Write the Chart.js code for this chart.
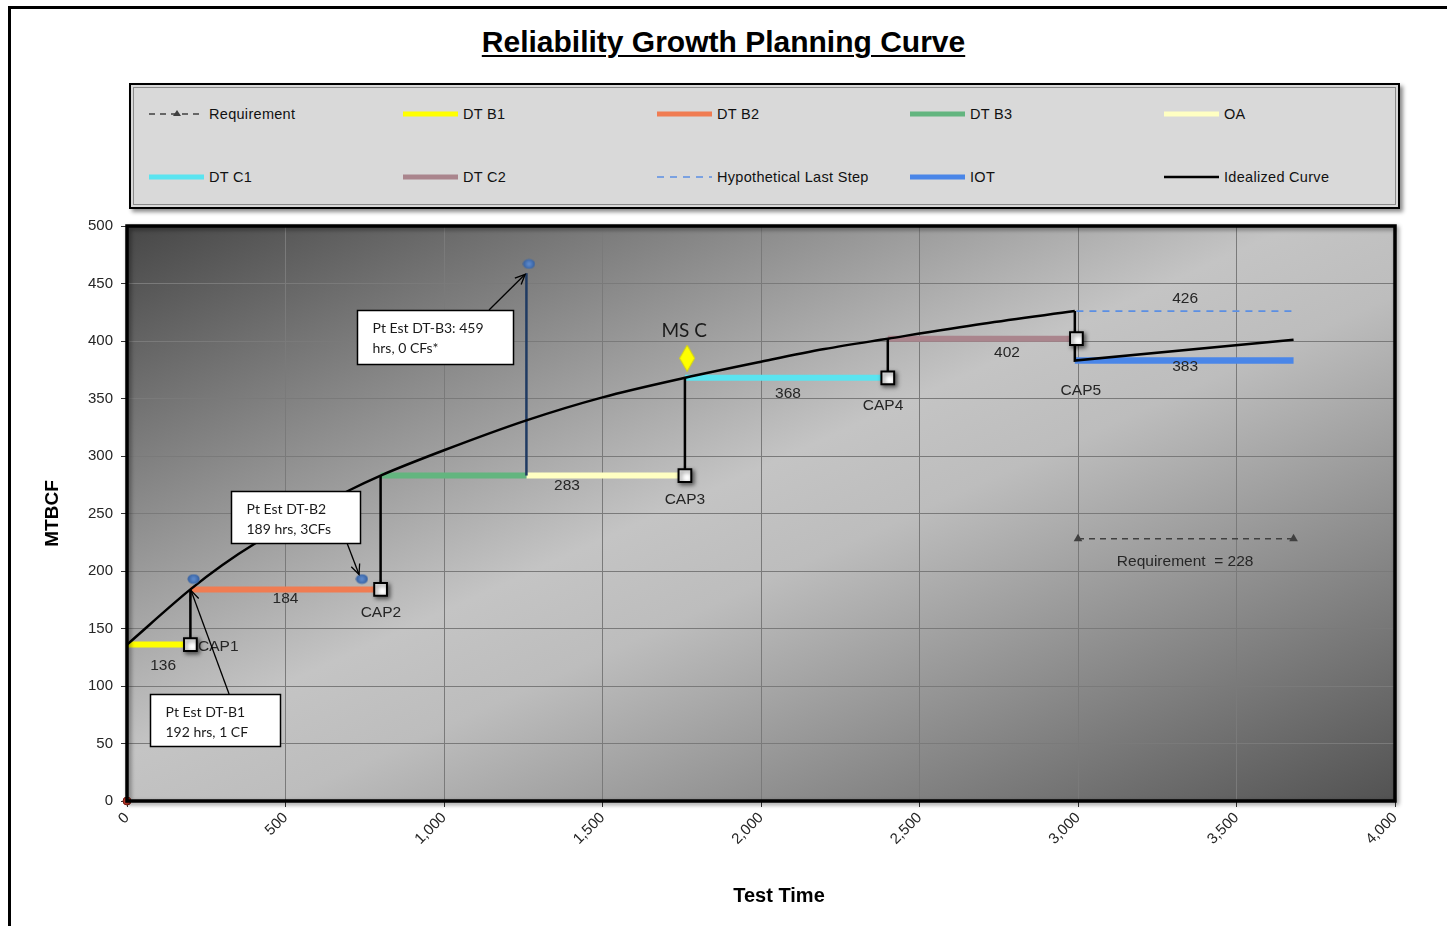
<!DOCTYPE html>
<html><head><meta charset="utf-8">
<script src="https://cdn.jsdelivr.net/npm/chart.js@4.4.0/dist/chart.umd.min.js"></script>
<style>
html,body{margin:0;padding:0;background:#fff;width:1447px;height:926px;overflow:hidden;font-family:"Liberation Sans",Arial,sans-serif;}
#frame{position:absolute;left:8px;top:6px;width:1460px;height:940px;border:3px solid #000;box-sizing:border-box;}
#title{position:absolute;left:0;width:1447px;top:24px;text-align:center;font-weight:bold;font-size:30px;line-height:36px;text-decoration:underline;text-decoration-thickness:2px;text-underline-offset:3px;color:#000;}
#legend{position:absolute;left:129px;top:83px;width:1271px;height:126px;box-sizing:border-box;background:#d9d9d9;border:2px solid #000;box-shadow:inset 0 0 0 2px #d9d9d9, inset 0 0 0 3px #8a8a8a, 3px 3px 4px rgba(0,0,0,0.45);}
.sw{position:absolute;width:56px;height:16px;}
.lt{position:absolute;font-size:14.5px;letter-spacing:0.3px;color:#111;height:20px;line-height:20px;white-space:nowrap;}
canvas#c{position:absolute;left:0;top:0;}
</style></head><body>
<div id="frame"></div>
<div id="title">Reliability Growth Planning Curve</div>
<div id="legend"></div>
<canvas id="c" width="1447" height="926" style="width:1447px;height:926px"></canvas>
<script>
// ---------------- data ----------------
const xTicks = [0, 500, 1000, 1500, 2000, 2500, 3000, 3500, 4000];
const yTicks = [0, 50, 100, 150, 200, 250, 300, 350, 400, 450, 500];
const seriesNames = ["Requirement", "DT B1", "DT B2", "DT B3", "OA", "DT C1", "DT C2", "Hypothetical Last Step", "IOT", "Idealized Curve"];

const requirementX = [3000, 3680];
const requirementY = [228, 228];
const dtB1X = [0, 200];
const dtB1Y = [136, 136];
const dtB2X = [200, 800];
const dtB2Y = [184, 184];
const dtB3X = [800, 1260];
const dtB3Y = [283, 283];
const oaX = [1260, 1760];
const oaY = [283, 283];
const dtC1X = [1760, 2400];
const dtC1Y = [368, 368];
const dtC2X = [2400, 2995];
const dtC2Y = [402, 402];
const hypoX = [2995, 3680];
const hypoY = [426, 426];
const iotX = [2990, 3680];
const iotY = [383, 383];
const curveX = [0, 200, 300, 410, 500, 600, 700, 800, 1000, 1260, 1500, 1760, 2000, 2200, 2400, 2700, 2990];
const curveY = [136, 184, 205, 225, 239, 255, 270, 283, 305, 331, 351, 368, 382, 393, 402, 415, 426];
const curveIotX = [2990, 2990, 3680];
const curveIotY = [426, 383, 401];

const capNames = ["CAP1", "CAP2", "CAP3", "CAP4", "CAP5"];
const capX = [200, 800, 1760, 2400, 2995];
const capY = [136, 184, 283, 368, 402];
const capTopY = [184, 283, 368, 402];

const ptEstX = [210, 741, 1268];
const ptEstY = [193, 193, 467];
const dtB3EstX = [1260, 1260];
const dtB3EstY = [283, 459];
const msCX = [1767];
const msCY = [385];
const originX = [0];
const originY = [0];
const requirementValue = 228;

// ---------------- styles ----------------
const seriesStyles = [
  {color: '#404040', width: 1.6, dash: [6, 5], marker: 'triangle'},
  {color: '#ffff00', width: 6},
  {color: '#f07c52', width: 6},
  {color: '#63b57f', width: 6},
  {color: '#ffffc2', width: 6},
  {color: '#5ae4f0', width: 6},
  {color: '#aa858d', width: 6},
  {color: '#5b8fe3', width: 1.6, dash: [7, 6]},
  {color: '#4a86e8', width: 6.5},
  {color: '#000000', width: 2.5}
];

// ---------------- legend (HTML) ----------------
(function buildLegend() {
  const lg = document.getElementById('legend');
  const colX = [149, 403, 657, 910, 1164];
  const rowY = [114, 177];
  seriesNames.forEach((name, i) => {
    const st = seriesStyles[i];
    const cx = colX[i % 5] - 131, cy = rowY[Math.floor(i / 5)] - 85;
    const cv = document.createElement('canvas');
    cv.width = 56; cv.height = 16; cv.className = 'sw';
    cv.style.left = cx + 'px'; cv.style.top = (cy - 8) + 'px';
    const g = cv.getContext('2d');
    g.strokeStyle = st.color; g.lineWidth = Math.min(st.width, 5);
    if (st.dash) g.setLineDash(st.dash);
    g.beginPath(); g.moveTo(0, 8); g.lineTo(55, 8); g.stroke();
    if (st.marker === 'triangle') {
      g.setLineDash([]); g.fillStyle = st.color;
      g.beginPath(); g.moveTo(28, 4); g.lineTo(32, 10); g.lineTo(24, 10); g.closePath(); g.fill();
    }
    lg.appendChild(cv);
    const t = document.createElement('div');
    t.className = 'lt'; t.textContent = name;
    t.style.left = (cx + 60) + 'px'; t.style.top = (cy - 10) + 'px';
    lg.appendChild(t);
  });
})();

// ---------------- helpers ----------------
function pts(xs, ys) { return xs.map((x, i) => ({x: x, y: ys[i]})); }
function connectorPts() {
  const out = [];
  for (let i = 0; i < capTopY.length; i++) {
    out.push({x: capX[i], y: capY[i]}, {x: capX[i], y: capTopY[i]}, {x: capX[i], y: null});
  }
  return out;
}
const diamond = document.createElement('canvas');
diamond.width = 16; diamond.height = 27;
(function () {
  const g = diamond.getContext('2d');
  g.fillStyle = '#ffff00'; g.strokeStyle = '#d8d800'; g.lineWidth = 1;
  g.beginPath(); g.moveTo(8, 0.5); g.lineTo(15.5, 13.5); g.lineTo(8, 26.5); g.lineTo(0.5, 13.5); g.closePath(); g.fill(); g.stroke();
})();
const blueDot = document.createElement('canvas');
blueDot.width = 13; blueDot.height = 11;
(function () {
  const g = blueDot.getContext('2d');
  const gr = g.createRadialGradient(6.5, 5.5, 1, 6.5, 5.5, 6.5);
  gr.addColorStop(0, '#5a86c8'); gr.addColorStop(1, '#2f5a9a');
  g.fillStyle = gr;
  g.beginPath(); g.ellipse(6.5, 5.5, 6, 4.8, 0, 0, Math.PI * 2); g.fill();
})();

function stepDs(i, xs, ys, order) {
  const st = seriesStyles[i];
  return {label: seriesNames[i], data: pts(xs, ys), borderColor: st.color, borderWidth: st.width,
    borderDash: st.dash || [], pointRadius: 0, order: order, borderCapStyle: 'butt'};
}

const datasets = [
  {label: 'CAP markers', data: pts(capX, capY), showLine: false, pointStyle: 'rect', pointRadius: 9,
    pointBackgroundColor: '#ffffff', pointBorderColor: '#000000', pointBorderWidth: 2, order: 0, clip: false},
  {label: 'Point estimates', data: pts(ptEstX, ptEstY), showLine: false, pointStyle: blueDot, order: 1, clip: false},
  {label: 'MS C', data: pts(msCX, msCY), showLine: false, pointStyle: diamond, order: 1, clip: false},
  {label: 'origin', data: pts(originX, originY), showLine: false, pointStyle: 'circle', pointRadius: 4,
    pointBackgroundColor: '#c0392b', pointBorderColor: '#7a1c12', pointBorderWidth: 1, order: 1, clip: false},
  {label: 'Idealized Curve', data: pts(curveX, curveY), borderColor: '#000', borderWidth: 2.5,
    cubicInterpolationMode: 'monotone', pointRadius: 0, order: 2},
  {label: 'Idealized Curve (IOT)', data: pts(curveIotX, curveIotY), borderColor: '#000', borderWidth: 2.5,
    pointRadius: 0, order: 2},
  {label: 'CAP connectors', data: connectorPts(), borderColor: '#000', borderWidth: 2.5, pointRadius: 0, spanGaps: false, order: 3},
  {label: 'DT-B3 estimate', data: pts(dtB3EstX, dtB3EstY), borderColor: '#1f3a62', borderWidth: 2.5, pointRadius: 0, order: 3},
  {label: seriesNames[0], data: pts(requirementX, requirementY), borderColor: seriesStyles[0].color,
    borderWidth: seriesStyles[0].width, borderDash: seriesStyles[0].dash, pointStyle: 'triangle', pointRadius: 5,
    pointBackgroundColor: '#404040', pointBorderWidth: 0, order: 2},
  stepDs(1, dtB1X, dtB1Y, 4),
  stepDs(2, dtB2X, dtB2Y, 4),
  stepDs(3, dtB3X, dtB3Y, 4),
  stepDs(4, oaX, oaY, 4),
  stepDs(5, dtC1X, dtC1Y, 4),
  stepDs(6, dtC2X, dtC2Y, 4),
  stepDs(7, hypoX, hypoY, 4),
  stepDs(8, iotX, iotY, 4)
];

// ---------------- annotations (positions in data units) ----------------
const valueLabels = [
  {text: String(dtB1Y[0]), x: 114, y: 118},
  {text: String(dtB2Y[0]), x: 500, y: 176},
  {text: String(oaY[0]), x: 1388, y: 274},
  {text: String(dtC1Y[0]), x: 2085, y: 354},
  {text: String(dtC2Y[0]), x: 2776, y: 390},
  {text: String(hypoY[0]), x: 3338, y: 437},
  {text: String(iotY[0]), x: 3338, y: 378},
  {text: 'Requirement  = ' + requirementValue, x: 3338, y: 208}
];
const capLabelPos = [
  {x: 224, y: 134, align: 'left'},
  {x: 801, y: 163.5, align: 'center'},
  {x: 1760, y: 262, align: 'center'},
  {x: 2385, y: 343.5, align: 'center'},
  {x: 3009, y: 356.5, align: 'center'}
];
const callouts = [
  {lines: ['Pt Est DT-B1', '192 hrs, 1 CF'], box: [72, 93, 483, 48], from: [322, 93], to: [202, 183]},
  {lines: ['Pt Est DT-B2', '189 hrs, 3CFs'], box: [328, 269.6, 735, 224.3], from: [694, 224.3], to: [732, 197]},
  {lines: ['Pt Est DT-B3: 459', 'hrs, 0 CFs*'], box: [725, 427, 1218, 380], from: [1142, 427], to: [1256, 458]}
];

const bgPlugin = {
  id: 'bg',
  beforeDraw(chart) {
    const {ctx, chartArea: a} = chart;
    const W = a.right - a.left, H = a.bottom - a.top;
    const f = 2 * W * H / (W * W + H * H);
    const g = ctx.createLinearGradient(a.left, a.top, a.left + f * H, a.top + f * W);
    g.addColorStop(0, '#474747');
    g.addColorStop(0.46, '#c4c4c4');
    g.addColorStop(0.56, '#bdbdbd');
    g.addColorStop(1, '#525252');
    ctx.save(); ctx.fillStyle = g; ctx.fillRect(a.left, a.top, W, H); ctx.restore();
  },
  beforeDatasetDraw(chart, args) {
    chart.ctx.save();
    if (args.index === 0) {
      chart.ctx.shadowColor = 'rgba(0,0,0,0.55)';
      chart.ctx.shadowBlur = 4; chart.ctx.shadowOffsetX = 2; chart.ctx.shadowOffsetY = 2;
    }
  },
  afterDatasetDraw(chart) { chart.ctx.restore(); }
};

function arrow(ctx, x1, y1, x2, y2) {
  ctx.beginPath(); ctx.moveTo(x1, y1); ctx.lineTo(x2, y2); ctx.stroke();
  const ang = Math.atan2(y2 - y1, x2 - x1), L = 11, s = 0.42;
  ctx.beginPath();
  ctx.moveTo(x2 - L * Math.cos(ang - s), y2 - L * Math.sin(ang - s));
  ctx.lineTo(x2, y2);
  ctx.lineTo(x2 - L * Math.cos(ang + s), y2 - L * Math.sin(ang + s));
  ctx.stroke();
}

const annotPlugin = {
  id: 'annot',
  afterDatasetsDraw(chart) {
    const {ctx, scales: {x, y}} = chart;
    ctx.save();
    ctx.fillStyle = '#262626';
    ctx.font = '15.5px "Liberation Sans", Arial, sans-serif';
    ctx.textBaseline = 'middle';
    ctx.textAlign = 'center';
    valueLabels.forEach(l => ctx.fillText(l.text, x.getPixelForValue(l.x), y.getPixelForValue(l.y)));
    capNames.forEach((n, i) => {
      const p = capLabelPos[i];
      ctx.textAlign = p.align;
      ctx.fillText(n, x.getPixelForValue(p.x), y.getPixelForValue(p.y));
    });
    // MS C label
    ctx.textAlign = 'center';
    ctx.font = '19px Lato, "Open Sans", sans-serif';
    ctx.fillStyle = '#1a1a1a';
    ctx.fillText('MS C', x.getPixelForValue(msCX[0]) - 3, y.getPixelForValue(409));
    // callouts
    callouts.forEach(c => {
      const x1 = Math.round(x.getPixelForValue(c.box[0])) + 0.5, y1 = Math.round(y.getPixelForValue(c.box[1])) + 0.5;
      const x2 = Math.round(x.getPixelForValue(c.box[2])) + 0.5, y2 = Math.round(y.getPixelForValue(c.box[3])) + 0.5;
      ctx.strokeStyle = '#000'; ctx.lineWidth = 1.3;
      arrow(ctx, x.getPixelForValue(c.from[0]), y.getPixelForValue(c.from[1]), x.getPixelForValue(c.to[0]), y.getPixelForValue(c.to[1]));
      ctx.fillStyle = '#ffffff';
      ctx.fillRect(x1, y1, x2 - x1, y2 - y1);
      ctx.lineWidth = 1.5;
      ctx.strokeRect(x1, y1, x2 - x1, y2 - y1);
      ctx.fillStyle = '#1a1a1a';
      ctx.font = '14px Lato, "Open Sans", sans-serif';
      ctx.textAlign = 'left';
      c.lines.forEach((ln, k) => ctx.fillText(ln, x1 + 15, y1 + 17.5 + k * 20));
    });
    ctx.restore();
  },
  afterDraw(chart) {
    const {ctx, chartArea: a} = chart;
    ctx.save();
    ctx.shadowColor = 'rgba(0,0,0,0.45)'; ctx.shadowBlur = 4; ctx.shadowOffsetX = 2; ctx.shadowOffsetY = 2;
    ctx.strokeStyle = '#000'; ctx.lineWidth = 3.5;
    ctx.strokeRect(a.left, a.top, a.right - a.left, a.bottom - a.top);
    ctx.restore();
    // x-axis title (offset to the right as in the reference)
    ctx.save();
    ctx.fillStyle = '#000';
    ctx.font = 'bold 20px "Liberation Sans", Arial, sans-serif';
    ctx.textAlign = 'center'; ctx.textBaseline = 'middle';
    ctx.fillText('Test Time', 779, 896);
    ctx.restore();
  }
};

new Chart(document.getElementById('c'), {
  type: 'line',
  data: {datasets: datasets},
  options: {
    responsive: false, animation: false,
    layout: {padding: {left: 0, top: 226, right: 52, bottom: 0}},
    plugins: {legend: {display: false}, tooltip: {enabled: false}},
    elements: {line: {tension: 0}},
    scales: {
      x: {
        type: 'linear', min: 0, max: 4000,
        afterBuildTicks: s => { s.ticks = xTicks.map(v => ({value: v})); },
        ticks: {minRotation: 45, maxRotation: 45, autoSkip: false, padding: 2, color: '#262626',
          font: {family: '"Liberation Sans", Arial, sans-serif', size: 15},
          callback: v => Number(v).toLocaleString('en-US')},
        grid: {color: '#7a7a7a', lineWidth: 1, tickLength: 6, tickColor: '#333'},
        border: {display: false},
        title: {display: false},
        afterFit: s => { s.height = 125; s.paddingLeft = 0; s.paddingRight = 0; }
      },
      y: {
        type: 'linear', min: 0, max: 500,
        afterBuildTicks: s => { s.ticks = yTicks.map(v => ({value: v})); },
        ticks: {padding: 8, color: '#262626', font: {family: '"Liberation Sans", Arial, sans-serif', size: 15}},
        grid: {color: '#7a7a7a', lineWidth: 1, tickLength: 6, tickColor: '#333'},
        border: {display: false},
        title: {display: true, text: 'MTBCF', color: '#000',
          font: {family: '"Liberation Sans", Arial, sans-serif', size: 19, weight: 'bold'}, padding: {top: 41, bottom: 0}},
        afterFit: s => { s.width = 127; s.paddingTop = 0; s.paddingBottom = 0; }
      }
    }
  },
  plugins: [bgPlugin, annotPlugin]
});
</script>
</body></html>
